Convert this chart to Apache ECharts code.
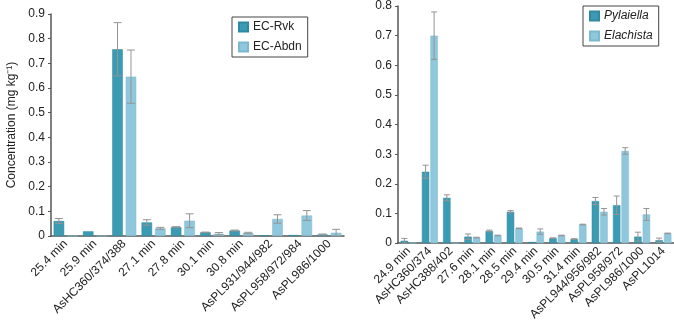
<!DOCTYPE html>
<html>
<head>
<meta charset="utf-8">
<script src="https://cdn.jsdelivr.net/npm/echarts@6/dist/echarts.min.js"></script>
<style>
  html, body { margin: 0; padding: 0; background: #fff; }
  #chart { width: 674px; height: 323px; }
</style>
</head>
<body>
<div id="chart"></div>
<script>
// left panel: EC-Rvk vs EC-Abdn
var leftCats = ['25.4 min', '25.9 min', 'AsHC360/374/388', '27.1 min', '27.8 min',
  '30.1 min', '30.8 min', 'AsPL931/944/982', 'AsPL958/972/984', 'AsPL986/1000'];
var rvkVals = [0.061, 0.019, 0.757, 0.055, 0.036, 0.015, 0.022, 0.003, 0.004, 0.006];
var rvkErr  = [0.010, 0, 0.108, 0.011, 0.002, 0.001, 0.002, 0, 0, 0.002];
var abdnVals = [0, 0, 0.646, 0.031, 0.062, 0.009, 0.012, 0.069, 0.083, 0.013];
var abdnErr  = [0, 0, 0.108, 0.004, 0.028, 0.005, 0.003, 0.017, 0.020, 0.014];

// right panel: Pylaiella vs Elachista
var rightCats = ['24.9 min', 'AsHC360/374', 'AsHC388/402', '27.6 min', '28.1 min',
  '28.5 min', '29.4 min', '30.5 min', '31.4 min', 'AsPL944/956/982', 'AsPL958/972',
  'AsPL986/1000', 'AsPL1014'];
var pylVals = [0.008, 0.241, 0.153, 0.022, 0.041, 0.106, 0.004, 0.017, 0.014, 0.142, 0.128, 0.022, 0.010];
var pylErr  = [0.008, 0.022, 0.010, 0.009, 0.003, 0.004, 0, 0.001, 0.001, 0.012, 0.031, 0.015, 0.007];
var elaVals = [0.002, 0.700, 0, 0.019, 0.026, 0.050, 0.039, 0.026, 0.063, 0.106, 0.311, 0.097, 0.033];
var elaErr  = [0, 0.080, 0, 0.001, 0.001, 0.001, 0.009, 0.001, 0.001, 0.011, 0.011, 0.020, 0.001];

var DARK = '#3a9bb3';
var LIGHT = '#8fc8dc';
var FONT = '"Liberation Sans", Arial, Helvetica, sans-serif';

function pairs(vals, errs) {
  var out = [];
  for (var i = 0; i < vals.length; i++) out.push([i, vals[i], errs[i]]);
  return out;
}

// error bars placed over grouped bars (2 per category)
function errRender(pos, catGap, barGap, capW) {
  return function(params, api) {
    var e = api.value(2);
    if (!e) return null;
    var idx = api.value(0);
    var v = api.value(1);
    var band = api.size([1, 0])[0];
    var bw = band * (1 - catGap) / (2 + barGap);
    var x0 = api.coord([idx, 0])[0];
    var cx = x0 - bw * (2 + barGap) / 2 + bw / 2 + pos * bw * (1 + barGap);
    var yTop = api.coord([idx, v + e])[1];
    var yBot = api.coord([idx, Math.max(0, v - e)])[1];
    var st = { stroke: '#949494', lineWidth: 1 };
    return {
      type: 'group',
      children: [
        { type: 'line', shape: { x1: cx, y1: yTop, x2: cx, y2: yBot }, style: st },
        { type: 'line', shape: { x1: cx - capW / 2, y1: yTop, x2: cx + capW / 2, y2: yTop }, style: st },
        { type: 'line', shape: { x1: cx - capW / 2, y1: yBot, x2: cx + capW / 2, y2: yBot }, style: st }
      ]
    };
  };
}

var L_CAT = 0.18, L_GAP = 0.28;
var R_CAT = 0.25, R_GAP = 0.15;

function yAxisCfg(gridIdx, max, withName) {
  var cfg = {
    type: 'value',
    gridIndex: gridIdx,
    min: 0,
    max: max,
    interval: 0.1,
    axisLine: { show: true, lineStyle: { color: '#555', width: 1.5 } },
    axisTick: { show: true, length: 3, lineStyle: { color: '#555' } },
    splitLine: { show: false },
    axisLabel: {
      color: '#222', fontSize: 12, fontFamily: FONT, margin: 6,
      formatter: function(v) { return v === 0 ? '0' : v.toFixed(1); }
    }
  };
  if (withName) {
    cfg.name = 'Concentration (mg kg⁻¹)';
    cfg.nameLocation = 'middle';
    cfg.nameGap = 33;
    cfg.nameTextStyle = { color: '#222', fontSize: 12, fontFamily: FONT };
  }
  return cfg;
}

function xAxisCfg(gridIdx, cats) {
  return {
    type: 'category',
    gridIndex: gridIdx,
    data: cats,
    axisLine: { show: true, lineStyle: { color: '#555', width: 1.5 } },
    axisTick: { show: false },
    axisLabel: {
      interval: 0, rotate: 45, color: '#222', fontSize: 12, fontFamily: FONT, margin: 6
    }
  };
}

function legendCfg(names, left, top, italic) {
  return {
    data: names,
    orient: 'vertical',
    left: left,
    top: top,
    icon: 'rect',
    itemWidth: 9,
    itemHeight: 9,
    itemGap: 8,
    padding: [4, 6, 4, 6],
    borderColor: '#444',
    borderWidth: 1,
    selectedMode: false,
    textStyle: { color: '#222', fontSize: 12, fontFamily: FONT, fontStyle: italic ? 'italic' : 'normal' }
  };
}

var chart = echarts.init(document.getElementById('chart'), null, { renderer: 'canvas' });
chart.setOption({
  animation: false,
  grid: [
    { left: 51, right: 330, top: 14, bottom: 87 },
    { left: 398, right: 0, top: 5, bottom: 78 }
  ],
  legend: [
    legendCfg(['EC-Rvk', 'EC-Abdn'], 232, 17, false),
    legendCfg(['Pylaiella', 'Elachista'], 583, 6, true)
  ],
  xAxis: [xAxisCfg(0, leftCats), xAxisCfg(1, rightCats)],
  yAxis: [yAxisCfg(0, 0.9, true), yAxisCfg(1, 0.8, false)],
  series: [
    {
      name: 'EC-Rvk', type: 'bar', xAxisIndex: 0, yAxisIndex: 0,
      data: rvkVals, barCategoryGap: (L_CAT * 100) + '%', barGap: (L_GAP * 100) + '%',
      itemStyle: { color: DARK, borderColor: '#2f8aa1', borderWidth: 0.5 }
    },
    {
      name: 'EC-Abdn', type: 'bar', xAxisIndex: 0, yAxisIndex: 0,
      data: abdnVals, barCategoryGap: (L_CAT * 100) + '%', barGap: (L_GAP * 100) + '%',
      itemStyle: { color: LIGHT, borderColor: '#7bb9cf', borderWidth: 0.5 }
    },
    {
      name: 'Pylaiella', type: 'bar', xAxisIndex: 1, yAxisIndex: 1,
      data: pylVals, barCategoryGap: (R_CAT * 100) + '%', barGap: (R_GAP * 100) + '%',
      itemStyle: { color: DARK, borderColor: '#2f8aa1', borderWidth: 0.5 }
    },
    {
      name: 'Elachista', type: 'bar', xAxisIndex: 1, yAxisIndex: 1,
      data: elaVals, barCategoryGap: (R_CAT * 100) + '%', barGap: (R_GAP * 100) + '%',
      itemStyle: { color: LIGHT, borderColor: '#7bb9cf', borderWidth: 0.5 }
    },
    {
      type: 'custom', xAxisIndex: 0, yAxisIndex: 0, z: 5,
      renderItem: errRender(0, L_CAT, L_GAP, 8), data: pairs(rvkVals, rvkErr)
    },
    {
      type: 'custom', xAxisIndex: 0, yAxisIndex: 0, z: 5,
      renderItem: errRender(1, L_CAT, L_GAP, 8), data: pairs(abdnVals, abdnErr)
    },
    {
      type: 'custom', xAxisIndex: 1, yAxisIndex: 1, z: 5,
      renderItem: errRender(0, R_CAT, R_GAP, 6), data: pairs(pylVals, pylErr)
    },
    {
      type: 'custom', xAxisIndex: 1, yAxisIndex: 1, z: 5,
      renderItem: errRender(1, R_CAT, R_GAP, 6), data: pairs(elaVals, elaErr)
    }
  ]
});
</script>
</body>
</html>
